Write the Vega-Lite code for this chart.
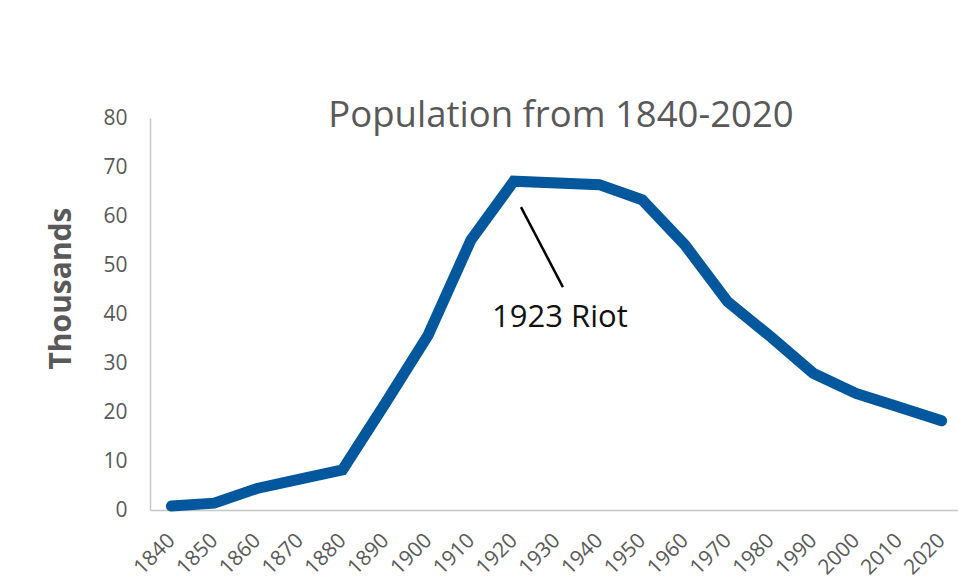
{
  "$schema": "https://vega.github.io/schema/vega-lite/v6.json",
  "autosize": {"type": "none"},
  "padding": {"left": 150, "top": 118, "right": 0, "bottom": 73},
  "width": 808,
  "height": 392,
  "background": "white",
  "title": {
    "text": "Population from 1840-2020",
    "font": "Open Sans",
    "fontSize": 36.5,
    "fontWeight": "normal",
    "color": "#595959",
    "anchor": "middle",
    "frame": "group",
    "baseline": "alphabetic",
    "offset": -10,
    "dx": 7,
    "dy": 46
  },
  "config": {
    "view": {"stroke": null},
    "font": "Open Sans",
    "axis": {
      "domainColor": "#c6c6c6",
      "domainWidth": 1.5,
      "grid": false,
      "ticks": false,
      "labelColor": "#595959",
      "labelFont": "Open Sans",
      "labelFontSize": 21,
      "titleColor": "#595959",
      "titleFont": "Open Sans"
    }
  },
  "datasets": {
    "pop": [
      {"year": 1840, "thousands": 0.8},
      {"year": 1850, "thousands": 1.4},
      {"year": 1860, "thousands": 4.4},
      {"year": 1870, "thousands": 6.3},
      {"year": 1880, "thousands": 8.2},
      {"year": 1890, "thousands": 21.8},
      {"year": 1900, "thousands": 35.7},
      {"year": 1910, "thousands": 55.1},
      {"year": 1920, "thousands": 67.1},
      {"year": 1940, "thousands": 66.4},
      {"year": 1950, "thousands": 63.3},
      {"year": 1960, "thousands": 54.1},
      {"year": 1970, "thousands": 42.5},
      {"year": 1980, "thousands": 35.4},
      {"year": 1990, "thousands": 27.9},
      {"year": 2000, "thousands": 23.8},
      {"year": 2010, "thousands": 21.0},
      {"year": 2020, "thousands": 18.2}
    ],
    "note": [
      {"label": "1923 Riot", "year": 1921.7, "thousands": 61.8, "year2": 1931.5, "thousands2": 45.5, "labelYear": 1930.8, "labelValue": 37.4}
    ]
  },
  "layer": [
    {
      "data": {"name": "pop"},
      "mark": {"type": "line", "color": "#03579c", "strokeWidth": 11, "strokeCap": "round", "strokeJoin": "miter"},
      "encoding": {
        "x": {
          "field": "year",
          "type": "quantitative",
          "scale": {"domain": [1835, 2023.83], "nice": false, "zero": false},
          "axis": {
            "title": null,
            "values": [1840, 1850, 1860, 1870, 1880, 1890, 1900, 1910, 1920, 1930, 1940, 1950, 1960, 1970, 1980, 1990, 2000, 2010, 2020],
            "format": "d",
            "labelAngle": -45,
            "labelAlign": "right",
            "labelBaseline": "middle",
            "labelPadding": 27,
            "labelFlush": false,
            "labelOverlap": false,
            "labelBound": false
          }
        },
        "y": {
          "field": "thousands",
          "type": "quantitative",
          "scale": {"domain": [0, 80], "nice": false},
          "axis": {
            "title": "Thousands",
            "values": [0, 10, 20, 30, 40, 50, 60, 70, 80],
            "labelPadding": 23,
            "titleFontSize": 30,
            "titleFontWeight": "bold",
            "titleAngle": -90,
            "titleAlign": "center",
            "titleBaseline": "alphabetic",
            "titleX": -80,
            "titleY": 170
          }
        }
      }
    },
    {
      "data": {"name": "note"},
      "mark": {"type": "rule", "color": "#000000", "strokeWidth": 2.5},
      "encoding": {
        "x": {"field": "year", "type": "quantitative"},
        "y": {"field": "thousands", "type": "quantitative"},
        "x2": {"field": "year2"},
        "y2": {"field": "thousands2"}
      }
    },
    {
      "data": {"name": "note"},
      "mark": {"type": "text", "font": "Open Sans", "fontSize": 31, "align": "center", "baseline": "alphabetic", "color": "#111111"},
      "encoding": {
        "x": {"field": "labelYear", "type": "quantitative"},
        "y": {"field": "labelValue", "type": "quantitative"},
        "text": {"field": "label"}
      }
    }
  ]
}
